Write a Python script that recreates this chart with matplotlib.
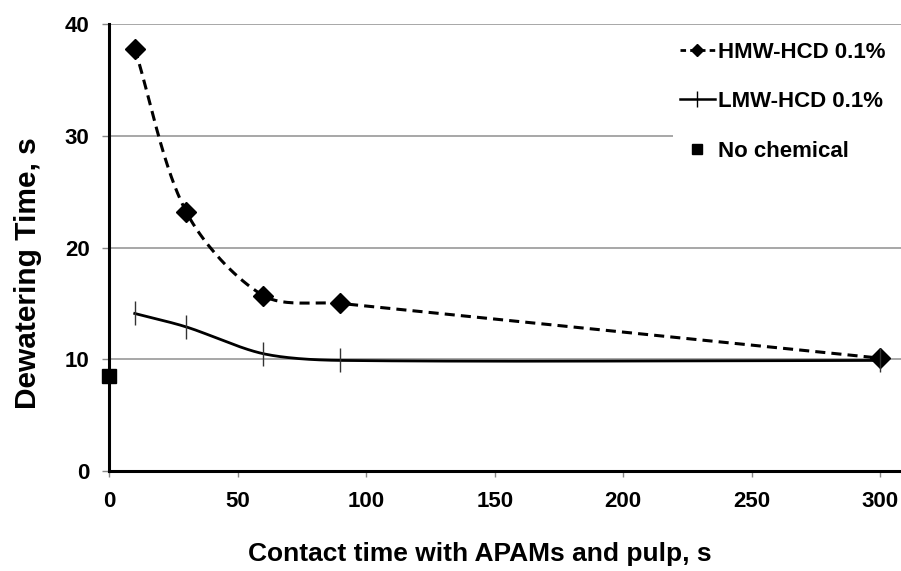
import numpy as np
import matplotlib
matplotlib.use('Agg')
import matplotlib.pyplot as plt

plt.rcParams['font.family'] = ['Liberation Sans', 'DejaVu Sans']
plt.rcParams['font.weight'] = 'bold'

contact_time = [10, 30, 60, 90, 300]
hmw_hcd = [37.8, 23.2, 15.7, 15.0, 10.1]
lmw_hcd = [14.1, 12.9, 10.5, 9.9, 9.9]
no_chem_x = [0]
no_chem_y = [8.5]

XMAX, YMAX = 308, 40
# screen scale (px per unit) so the smoothing looks like excel's
SX, SY = 792 / XMAX, 447 / YMAX


def smooth(x, y, n=40, k=0.3):
    # excel style smoothed line, bezier with normalised tangents in screen space
    P = np.column_stack([np.asarray(x, float) * SX, np.asarray(y, float) * SY])
    ext = np.vstack([P[0], P, P[-1]])
    tang = []
    for i in range(1, len(ext) - 1):
        d = ext[i + 1] - ext[i - 1]
        tang.append(d / np.linalg.norm(d))
    t = np.linspace(0, 1, n)[:, None]
    pts = []
    for i in range(len(P) - 1):
        L = np.linalg.norm(P[i + 1] - P[i])
        p0, p3 = P[i], P[i + 1]
        p1 = p0 + tang[i] * L * k
        p2 = p3 - tang[i + 1] * L * k
        b = (1 - t) ** 3 * p0 + 3 * (1 - t) ** 2 * t * p1 + 3 * (1 - t) * t ** 2 * p2 + t ** 3 * p3
        pts.append(b)
    pts = np.vstack(pts)
    return pts[:, 0] / SX, pts[:, 1] / SY


fig = plt.figure(figsize=(9.01, 5.71), dpi=100)
ax = fig.add_axes([0.121, 0.175, 0.879, 0.783])

hx, hy = smooth(contact_time, hmw_hcd)
lx, ly = smooth(contact_time, lmw_hcd)
dash = (0, (3.3, 2.0))
ax.plot(hx, hy, color='black', lw=2.2, ls=dash, zorder=3)
ax.plot(contact_time, hmw_hcd, ls='none', marker='D', ms=10.5, color='black', zorder=4)
ax.plot(lx, ly, color='black', lw=2.0, zorder=3)
ax.plot(contact_time, lmw_hcd, ls='none', marker='|', ms=17, mew=1.0, color='#333333', zorder=4)
ax.plot(no_chem_x, no_chem_y, ls='none', marker='s', ms=10.5, color='black', zorder=5, clip_on=False)

# legend proxies
h1, = ax.plot([], [], color='black', lw=2.0, ls=(0, (2, 1.5)), marker='D', ms=6.5)
h2, = ax.plot([], [], color='black', lw=1.8, marker='|', ms=12, mew=1.0)
h3, = ax.plot([], [], ls='none', marker='s', ms=7, color='black')
leg = ax.legend([h1, h2, h3], ['HMW-HCD 0.1%', 'LMW-HCD 0.1%', 'No chemical'],
                loc='upper left', bbox_to_anchor=(0.712, 0.0, 0.288, 0.975), mode='expand',
                borderaxespad=0, frameon=True, fancybox=False, edgecolor='none', framealpha=1,
                fontsize=16, labelspacing=1.28, handlelength=1.6,
                handletextpad=0.15, borderpad=0.3)
for t in leg.get_texts():
    t.set_fontweight('bold')

ax.set_xlim(0, XMAX)
ax.set_ylim(0, YMAX)
ax.set_xticks([0, 50, 100, 150, 200, 250, 300])
ax.set_yticks([0, 10, 20, 30, 40])
ax.yaxis.grid(True, color='#a0a0a0', lw=1.3)
ax.set_axisbelow(True)
for s in ['top', 'right']:
    ax.spines[s].set_visible(False)
for s in ['left', 'bottom']:
    ax.spines[s].set_linewidth(2.2)
ax.tick_params(axis='x', labelsize=16, length=4, width=1.0, direction='out', pad=10, color='#888888')
ax.tick_params(axis='y', labelsize=16, length=5, width=1.0, direction='out', pad=9, color='#888888')
for lab in ax.get_xticklabels() + ax.get_yticklabels():
    lab.set_fontweight('bold')

ax.set_xlabel('Contact time with APAMs and pulp, s', fontsize=19, fontweight='bold')
ax.xaxis.set_label_coords(0.468, -0.159)
ax.set_ylabel('Dewatering Time, s', fontsize=21.5, fontweight='bold')
ax.yaxis.set_label_coords(-0.085, 0.442)

fig.savefig('out.png', dpi=100)
